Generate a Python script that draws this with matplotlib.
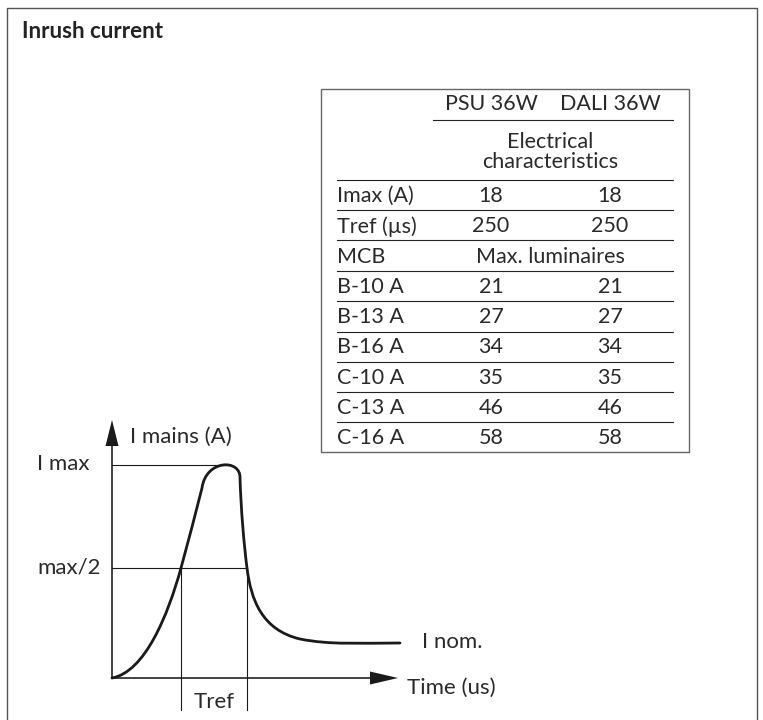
import matplotlib.pyplot as plt
from matplotlib.path import Path
from matplotlib.patches import PathPatch, Rectangle, FancyArrow

# table data
col_headers = ["PSU 36W", "DALI 36W"]
section_title = "Electrical\ncharacteristics"
spec_rows = ["Imax (A)", "Tref (\u00b5s)"]
spec_psu = ["18", "250"]
spec_dali = ["18", "250"]
mcb_header = ["MCB", "Max. luminaires"]
mcb_rows = ["B-10 A", "B-13 A", "B-16 A", "C-10 A", "C-13 A", "C-16 A"]
mcb_psu = [21, 27, 34, 35, 46, 58]
mcb_dali = [21, 27, 34, 35, 46, 58]

# inrush curve, bezier anchor/control points (sketch units, y up)
curve_x = [0, 33, 56, 69, 76, 84, 90, 94, 129, 128, 129, 132, 135, 139, 150, 188, 218, 248, 288]
curve_y = [0, 6, 63, 110, 136, 166, 190, 219, 219, 200, 168, 133, 110, 78, 48, 39, 33, 35, 35]
i_max = 213
i_half = 110
t_ref = [69, 135]

plt.rcParams['font.family'] = ['Lato', 'DejaVu Sans']

fig = plt.figure(figsize=(7.63, 7.2), dpi=100)
ax = fig.add_axes([0, 0, 1, 1])
ax.set_xlim(0, 763)
ax.set_ylim(720, 0)
ax.axis('off')

# outer frame
ax.plot([7, 7, 757, 757], [722, 8, 8, 722], color='#555555', lw=1.0)
ax.text(22, 32, "Inrush current", fontsize=16, fontweight='bold', va='center', color='#222222')

# ---- table ----
ax.add_patch(Rectangle((321, 89), 368, 363, fill=False, edgecolor='#666666', lw=1.0))
c1, c2, lx = 491, 610, 337
tkw = dict(fontsize=15.5, va='center', color='#2a2a2a')
ax.text(c1, 104, col_headers[0], ha='center', **tkw)
ax.text(c2, 104, col_headers[1], ha='center', **tkw)
ax.plot([433, 673], [120, 120], color='#222222', lw=0.8)
ax.text((c1 + c2) / 2, 152, section_title, ha='center', linespacing=1.0, **tkw)
ax.plot([lx, 673], [180, 180], color='#222222', lw=0.8)

row_y = 196
for name, a, b in zip(spec_rows, spec_psu, spec_dali):
    ax.text(lx, row_y, name, ha='left', **tkw)
    ax.text(c1, row_y, a, ha='center', **tkw)
    ax.text(c2, row_y, b, ha='center', **tkw)
    ax.plot([lx, 673], [row_y + 14, row_y + 14], color='#222222', lw=0.8)
    row_y += 30.3

ax.text(lx, row_y, mcb_header[0], ha='left', **tkw)
ax.text((c1 + c2) / 2, row_y, mcb_header[1], ha='center', **tkw)
ax.plot([lx, 673], [row_y + 14, row_y + 14], color='#222222', lw=0.8)
row_y += 30.3

for k, (name, a, b) in enumerate(zip(mcb_rows, mcb_psu, mcb_dali)):
    ax.text(lx, row_y, name, ha='left', **tkw)
    ax.text(c1, row_y, str(a), ha='center', **tkw)
    ax.text(c2, row_y, str(b), ha='center', **tkw)
    if k < len(mcb_rows) - 1:
        ax.plot([lx, 673], [row_y + 14.5, row_y + 14.5], color='#222222', lw=0.8)
    row_y += 30.2

# ---- inrush diagram ----
ox, oy = 112, 678  # origin in figure pixels


def px(x, y):
    return ox + x, oy - y


lc = '#1a1a1a'
# thin guide lines
ax.plot(*zip(px(0, i_max), px(118, i_max)), color=lc, lw=0.8)
ax.plot(*zip(px(0, i_half), px(t_ref[1], i_half)), color=lc, lw=0.8)
for t in t_ref:
    ax.plot(*zip(px(t, i_half), px(t, -32)), color=lc, lw=0.8)

# axes with arrows
ax.add_patch(FancyArrow(ox, oy, 0, -258, width=1.6, head_width=13, head_length=26,
                        length_includes_head=True, color=lc, lw=0))
ax.add_patch(FancyArrow(ox, oy, 286, 0, width=1.6, head_width=13, head_length=28,
                        length_includes_head=True, color=lc, lw=0))

verts = [px(x, y) for x, y in zip(curve_x, curve_y)]
codes = [Path.MOVETO] + [Path.CURVE4] * (len(verts) - 1)
ax.add_patch(PathPatch(Path(verts, codes), fill=False, edgecolor=lc, lw=2.0, capstyle='round'))

dkw = dict(fontsize=16, va='center', color='#2a2a2a')
ax.text(130, 437, "I mains (A)", ha='left', **dkw)
ax.text(37, 464, "I max", ha='left', **dkw)
ax.text(37, 568, "max/2", ha='left', **dkw)
ax.text(422, 642, "I nom.", ha='left', **dkw)
ax.text(407, 688, "Time (us)", ha='left', **dkw)
ax.text(ox + (t_ref[0] + t_ref[1]) / 2, 702, "Tref", ha='center', **dkw)

fig.savefig('out.png', dpi=100)
